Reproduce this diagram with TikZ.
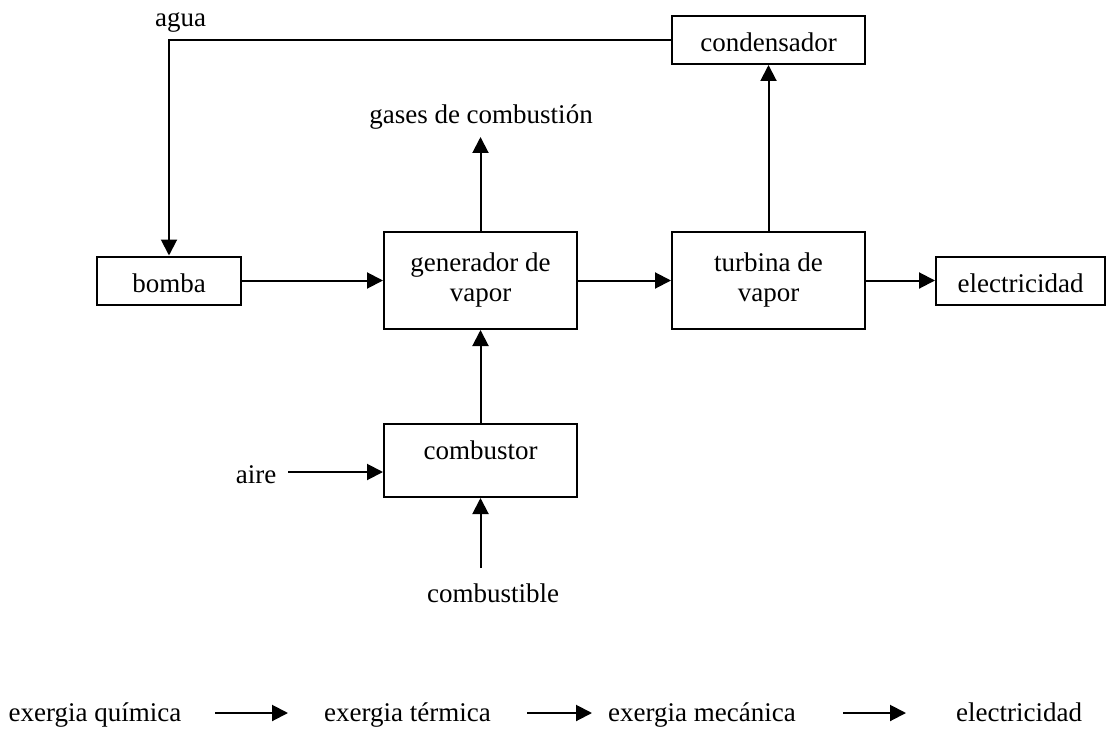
\documentclass[tikz,border=0pt]{standalone}
\usepackage{fontspec}
\setmainfont{Liberation Serif}
\usetikzlibrary{arrows.meta,positioning}

\begin{document}
\begin{tikzpicture}[
  x=1pt, y=-1pt,
  every node/.style={font=\fontsize{27}{30}\selectfont},
  unit/.style={draw, line width=2pt, inner sep=0pt, minimum height=48pt, text height=24pt, text depth=0pt},
  bigunit/.style={draw, line width=2pt, inner sep=0pt, minimum width=193pt, minimum height=97pt, align=center},
  flow/.style={-{Triangle[length=16pt,width=16pt]}, line width=2pt},
  label/.style={anchor=base, inner sep=0pt}
]
\useasboundingbox (0,0) rectangle (1107,730);

% main row
\node[unit, minimum width=144pt] (pump) at (169,280.5) {bomba};
\node[bigunit] (boiler) at (480.5,280.5) {generador de\\vapor};
\node[bigunit] (turbine) at (768.5,280.5) {turbina de\\vapor};
\node[unit, minimum width=169pt] (power) at (1020.5,280.5) {electricidad};
\node[unit, minimum width=193pt] (cond) at (768.5,40) {condensador};
\node[draw, line width=2pt, inner sep=0pt, minimum width=193pt, minimum height=73pt,
      text height=18pt, text depth=21pt] (burner) at (480.5,460.5) {combustor};

% free labels
\node[label] (water) at (180.5,27) {agua};
\node[label] (gases) at (481,124) {gases de combusti\'on};
\node[label] (air) at (256,483) {aire};
\node[label] (fuel) at (493,602) {combustible};
\coordinate (gasout) at (480.5,137);
\coordinate (airin) at (288,472);
\coordinate (fuelin) at (480.5,568);

\draw[flow] (cond.west) -| (pump.north);
\draw[flow] (pump) -- (boiler);
\draw[flow] (boiler) -- (turbine);
\draw[flow] (turbine) -- (power);
\draw[flow] (turbine) -- (cond);
\draw[flow] (boiler) -- (gasout);
\draw[flow] (burner) -- (boiler);
\draw[flow] (airin) -- (airin -| burner.west);
\draw[flow] (fuelin) -- (burner);

% exergy chain
\node[label] (chem) at (95,721) {exergia qu\'imica};
\node[label] (therm) at (407.5,721) {exergia t\'ermica};
\node[label] (mech) at (702,721) {exergia mec\'anica};
\node[label] (elec) at (1019,721) {electricidad};
\coordinate (c1) at (215,713);
\coordinate (c2) at (527,713);
\coordinate (c3) at (843,713);
\draw[flow] (c1) -- ++(73,0);
\draw[flow] (c2) -- ++(65,0);
\draw[flow] (c3) -- ++(63,0);
\end{tikzpicture}
\end{document}
